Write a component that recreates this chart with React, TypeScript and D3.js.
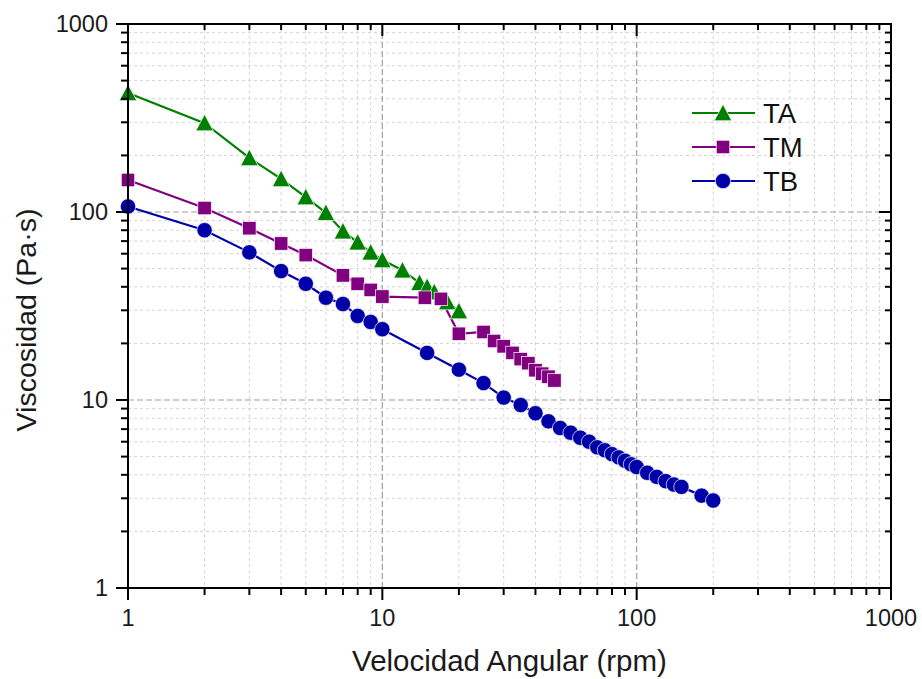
import React from "react";
import * as d3 from "d3";

const taX = [1, 2, 3, 4, 5, 6, 7, 8, 9, 10, 12, 14, 15, 16, 18, 20];
const taY = [430, 297, 194, 150, 120, 99, 79, 69, 61, 55.6, 49, 42, 40, 37.5, 33.2, 29.7];

const tmX = [1, 2, 3, 4, 5, 7, 8, 9, 10, 14.7, 17, 20, 25, 27.5, 30, 32.5, 35, 37.5, 40, 42.5, 45, 47.5];
const tmY = [148, 105, 82, 68, 59, 46, 41.5, 38.5, 35.5, 35, 34.5, 22.5, 23, 20.6, 19.3, 17.8, 16.5, 15.7, 14.4, 13.8, 13.3, 12.7];

const tbX = [1, 2, 3, 4, 5, 6, 7, 8, 9, 10, 15, 20, 25, 30, 35, 40, 45, 50, 55, 60, 65, 70, 75, 80, 85, 90, 95, 100, 110, 120, 130, 140, 150, 180, 200];
const tbY = [107, 80, 61, 48.5, 41.5, 35, 32.4, 28, 26, 23.8, 17.8, 14.5, 12.3, 10.3, 9.4, 8.5, 7.7, 7.1, 6.7, 6.3, 6.0, 5.6, 5.4, 5.15, 4.95, 4.75, 4.55, 4.4, 4.1, 3.9, 3.7, 3.55, 3.45, 3.1, 2.92];

const seriesNames = ["TA", "TM", "TB"];
const seriesColors = ["#008000", "#800080", "#0000a8"];
const seriesShapes = ["triangle", "square", "circle"];

const majorTicks = [1, 10, 100, 1000];
const tickLabels = ["1", "10", "100", "1000"];
const xTitle = "Velocidad Angular (rpm)";
const yTitle = "Viscosidad (Pa·s)";

const L = 128, R = 891, T = 24, B = 588;
const FONT = "'Liberation Sans', Arial, sans-serif";

function Marker({ shape, x, y, color }: { shape: string; x: number; y: number; color: string }) {
  if (shape === "triangle") {
    const w = 17.5, h = 15.5;
    const pts = `${x},${y - h / 2 - 1} ${x - w / 2},${y + h / 2} ${x + w / 2},${y + h / 2}`;
    return <polygon points={pts} fill={color} stroke="#fff" strokeWidth={0.7} />;
  }
  if (shape === "square") {
    const s = 13.5;
    return <rect x={x - s / 2} y={y - s / 2} width={s} height={s} fill={color} stroke="#fff" strokeWidth={0.7} />;
  }
  return <circle cx={x} cy={y} r={7.7} fill={color} stroke="#fff" strokeWidth={0.7} />;
}

export default function App() {
  const x = d3.scaleLog().domain([1, 1000]).range([L, R]);
  const y = d3.scaleLog().domain([1, 1000]).range([B, T]);

  const minors: number[] = [];
  for (const d of [1, 10, 100]) for (let k = 2; k <= 9; k++) minors.push(d * k);

  const data = [
    taX.map((v, i) => [v, taY[i]] as [number, number]),
    tmX.map((v, i) => [v, tmY[i]] as [number, number]),
    tbX.map((v, i) => [v, tbY[i]] as [number, number]),
  ];
  const line = d3.line<[number, number]>().x((d) => x(d[0])).y((d) => y(d[1]));

  return (
    <svg width={922} height={679} style={{ display: "block", position: "absolute", left: 0, top: 0 }} viewBox="0 0 922 679">
      <rect x={0} y={0} width={922} height={679} fill="#fff" />
      {minors.map((m) => (
        <g key={"mg" + m}>
          <line x1={x(m)} x2={x(m)} y1={T} y2={B} stroke="#d4d4d4" strokeWidth={1} strokeDasharray="3,3" />
          <line x1={L} x2={R} y1={y(m)} y2={y(m)} stroke="#d4d4d4" strokeWidth={1} strokeDasharray="3,3" />
        </g>
      ))}
      {majorTicks.slice(1, 3).map((m) => (
        <g key={"Mg" + m}>
          <line x1={x(m)} x2={x(m)} y1={T} y2={B} stroke="#a0a0a0" strokeWidth={1.2} strokeDasharray="6,3" />
          <line x1={L} x2={R} y1={y(m)} y2={y(m)} stroke="#a0a0a0" strokeWidth={1.2} strokeDasharray="6,3" />
        </g>
      ))}
      {data.map((d, i) => (
        <path key={"l" + i} d={line(d) || ""} fill="none" stroke={seriesColors[i]} strokeWidth={2.2} />
      ))}
      {data.map((d, i) => (
        <g key={"m" + i}>
          {d.map((p, j) => (
            <Marker key={j} shape={seriesShapes[i]} x={x(p[0])} y={y(p[1])} color={seriesColors[i]} />
          ))}
        </g>
      ))}
      <rect x={L} y={T} width={R - L} height={B - T} fill="none" stroke="#000" strokeWidth={2} />
      {majorTicks.map((m) => (
        <g key={"t" + m} stroke="#000" strokeWidth={2}>
          <line x1={x(m)} x2={x(m)} y1={B} y2={B + 12} />
          <line x1={x(m)} x2={x(m)} y1={T} y2={T + 12} />
          <line x1={L - 12} x2={L} y1={y(m)} y2={y(m)} />
          <line x1={R - 12} x2={R} y1={y(m)} y2={y(m)} />
        </g>
      ))}
      {minors.map((m) => (
        <g key={"mt" + m} stroke="#000" strokeWidth={2}>
          <line x1={x(m)} x2={x(m)} y1={B} y2={B + 7} />
          <line x1={x(m)} x2={x(m)} y1={T} y2={T + 6} />
          <line x1={L - 7} x2={L} y1={y(m)} y2={y(m)} />
          <line x1={R - 6} x2={R} y1={y(m)} y2={y(m)} />
        </g>
      ))}
      {majorTicks.map((m, i) => (
        <text key={"xl" + m} x={x(m)} y={626} textAnchor="middle" fontFamily={FONT} fontSize={23.5} fill="#1a1a1a">
          {tickLabels[i]}
        </text>
      ))}
      {majorTicks.map((m, i) => (
        <text key={"yl" + m} x={108} y={y(m) + 8.3} textAnchor="end" fontFamily={FONT} fontSize={23.5} fill="#1a1a1a">
          {tickLabels[i]}
        </text>
      ))}
      <text x={(L + R) / 2} y={671} textAnchor="middle" fontFamily={FONT} fontSize={29.5} fill="#1a1a1a">
        {xTitle}
      </text>
      <text transform="translate(36,320) rotate(-90)" textAnchor="middle" fontFamily={FONT} fontSize={28.5} fill="#1a1a1a">
        {yTitle}
      </text>
      {seriesNames.map((n, i) => {
        const ly = 113 + i * 34;
        return (
          <g key={"lg" + n}>
            <line x1={692} x2={755} y1={ly} y2={ly} stroke={seriesColors[i]} strokeWidth={2.2} />
            <Marker shape={seriesShapes[i]} x={723} y={ly} color={seriesColors[i]} />
            <text x={763} y={ly + 10} fontFamily={FONT} fontSize={27.5} fill="#111">
              {n}
            </text>
          </g>
        );
      })}
    </svg>
  );
}
